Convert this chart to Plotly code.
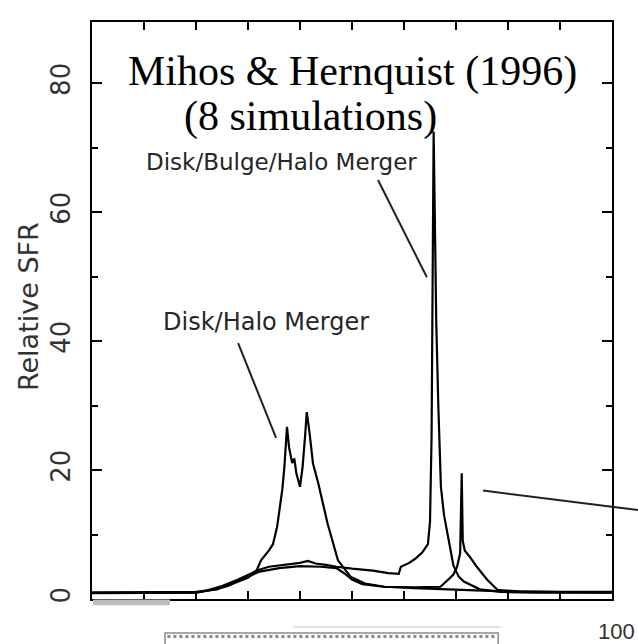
import plotly.graph_objects as go

# ---- data ----
dh_x = [0, 10, 20, 24, 26.5, 30, 31.7, 32.5, 34, 34.8, 35.6, 36.2, 36.6, 37.0, 37.5, 37.9, 38.5, 38.9, 39.3, 40.0,
        40.5, 41.0, 41.3, 41.8, 42.5, 43.5, 45.3, 47.3, 49.8, 52.5, 56.3, 62, 68, 75, 85, 100]
dh_y = [1.0, 1.0, 1.1, 1.5, 2.3, 3.3, 4.5, 6.0, 7.5, 8.5, 11.2, 14.3, 17.0, 20.5, 26.7, 23.5, 21.1, 21.8, 19.5, 17.4,
        20.5, 25.5, 29.0, 26.0, 21.0, 18.0, 11.7, 6.0, 3.4, 2.4, 1.9, 1.7, 1.5, 1.3, 1.1, 1.0]

dbh_x = [0, 10, 20, 22, 25, 28, 30, 32, 34, 36, 38, 40, 41.5, 43, 45, 47, 50, 54, 57, 59, 59.4, 61, 62.1, 63.5,
         64.6, 65.0, 65.3, 65.5, 65.7, 66.0, 66.2, 66.6, 67.1, 67.7, 68.3, 68.8, 69.5, 70.5, 71.5, 74.6, 78.5, 85, 100]
dbh_y = [1.0, 1.0, 1.0, 1.3, 2.0, 3.0, 3.7, 4.5, 5.0, 5.2, 5.4, 5.6, 5.9, 5.5, 5.3, 5.0, 4.7, 4.4, 4.0, 3.9, 5.0,
         5.6, 6.2, 7.2, 8.5, 12, 25, 50, 72.5, 55, 43, 30, 17.4, 13.0, 10.5, 8.5, 5.2, 3.5, 2.7, 1.5, 1.1, 1.0, 1.0]

c_x = [0, 10, 20, 23, 26, 30, 32, 36, 40, 44, 47, 48.5, 50, 52, 56, 62, 67, 68.5, 69.5, 70.2, 70.8, 71.1, 71.3,
       71.7, 72.7, 74.0, 76, 78, 82, 90, 100]
c_y = [0.9, 0.9, 1.0, 1.4, 2.0, 3.4, 4.2, 4.8, 5.1, 5.0, 4.8, 4.0, 3.0, 2.3, 1.9, 1.8, 1.9, 3.0, 3.8, 5.0, 7.1, 19.5,
       9.0, 7.5, 6.5, 5.0, 3.0, 1.4, 1.2, 1.1, 1.1]

y_ticks = [0, 20, 40, 60, 80]
y_range = [0, 89.5]
x_range = [0, 100]

title1 = "Mihos & Hernquist (1996)"
title2 = "(8 simulations)"
label_dbh = "Disk/Bulge/Halo Merger"
label_dh = "Disk/Halo Merger"
y_title = "Relative SFR"

fig = go.Figure()
for xs, ys in [(dh_x, dh_y), (dbh_x, dbh_y), (c_x, c_y)]:
    fig.add_trace(go.Scatter(x=xs, y=ys, mode="lines",
                             line=dict(color="black", width=2.2),
                             showlegend=False, hoverinfo="skip"))

sans = "DejaVu Sans"
serif = "Liberation Serif"

annotations = [
    dict(x=50, y=81.9, xref="x", yref="y", text=title1, showarrow=False,
         font=dict(family=serif, size=42, color="black"), xanchor="center", yanchor="middle"),
    dict(x=42.1, y=74.9, xref="x", yref="y", text=title2, showarrow=False,
         font=dict(family=serif, size=42, color="black"), xanchor="center", yanchor="middle"),
    dict(x=36.5, y=67.8, xref="x", yref="y", text=label_dbh, showarrow=False,
         font=dict(family=sans, size=23, color="#262626"), xanchor="center", yanchor="middle"),
    dict(x=33.5, y=43.0, xref="x", yref="y", text=label_dh, showarrow=False,
         font=dict(family=sans, size=24, color="#262626"), xanchor="center", yanchor="middle"),
    dict(x=-0.123, y=0.506, xref="paper", yref="paper", text=y_title, showarrow=False,
         textangle=-90, font=dict(family=sans, size=27, color="#333"), xanchor="center", yanchor="middle"),
    dict(x=1.0077, y=-0.0555, xref="paper", yref="paper", text="100", showarrow=False,
         font=dict(family="Liberation Sans", size=22, color="#333"), xanchor="center", yanchor="middle"),
]

shapes = [
    # pointer lines
    dict(type="line", xref="x", yref="y", x0=55.0, y0=65.0, x1=64.4, y1=49.9,
         line=dict(color="#222", width=2)),
    dict(type="line", xref="x", yref="y", x0=28.1, y0=39.7, x1=35.4, y1=25.0,
         line=dict(color="#222", width=2)),
    dict(type="line", xref="paper", yref="paper", x0=0.752, y0=0.188, x1=1.06, y1=0.153,
         line=dict(color="#222", width=2)),
    # scan remnants below the axis
    dict(type="rect", xref="paper", yref="paper", x0=0.002, x1=0.15, y0=-0.001, y1=-0.011,
         fillcolor="#bdbdbd", line=dict(width=0)),
    dict(type="line", xref="paper", yref="paper", x0=0.387, x1=0.785, y0=-0.0485, y1=-0.0485,
         line=dict(color="#e2e2e2", width=2)),
    dict(type="rect", xref="paper", yref="paper", x0=0.1404, x1=0.781, y0=-0.0589, y1=-0.12,
         line=dict(color="#8a8a8a", width=1.5)),
    dict(type="line", xref="paper", yref="paper", x0=0.145, x1=0.776, y0=-0.065, y1=-0.065,
         line=dict(color="#888", width=3, dash="dot")),
]

fig.update_layout(
    width=638, height=644,
    margin=dict(l=92, r=26, t=22, b=45),
    paper_bgcolor="white", plot_bgcolor="white",
    annotations=annotations, shapes=shapes,
    showlegend=False,
)
fig.update_xaxes(range=x_range, dtick=10, tick0=0, ticks="inside", ticklen=8, tickwidth=2,
                 tickcolor="black", showticklabels=False, showgrid=False, zeroline=False,
                 showline=True, linecolor="black", linewidth=2, mirror="ticks")
fig.update_yaxes(range=y_range, tickvals=y_ticks, ticks="inside", ticklen=10, tickwidth=2,
                 tickcolor="black", tickangle=-90, ticklabelstandoff=10,
                 tickfont=dict(family=sans, size=26, color="#333"),
                 minor=dict(tickvals=[10, 30, 50, 70], ticks="inside", ticklen=6, tickwidth=2,
                            tickcolor="black", showgrid=False),
                 showgrid=False, zeroline=False,
                 showline=True, linecolor="black", linewidth=2, mirror="ticks")

fig.write_html("out.html")
